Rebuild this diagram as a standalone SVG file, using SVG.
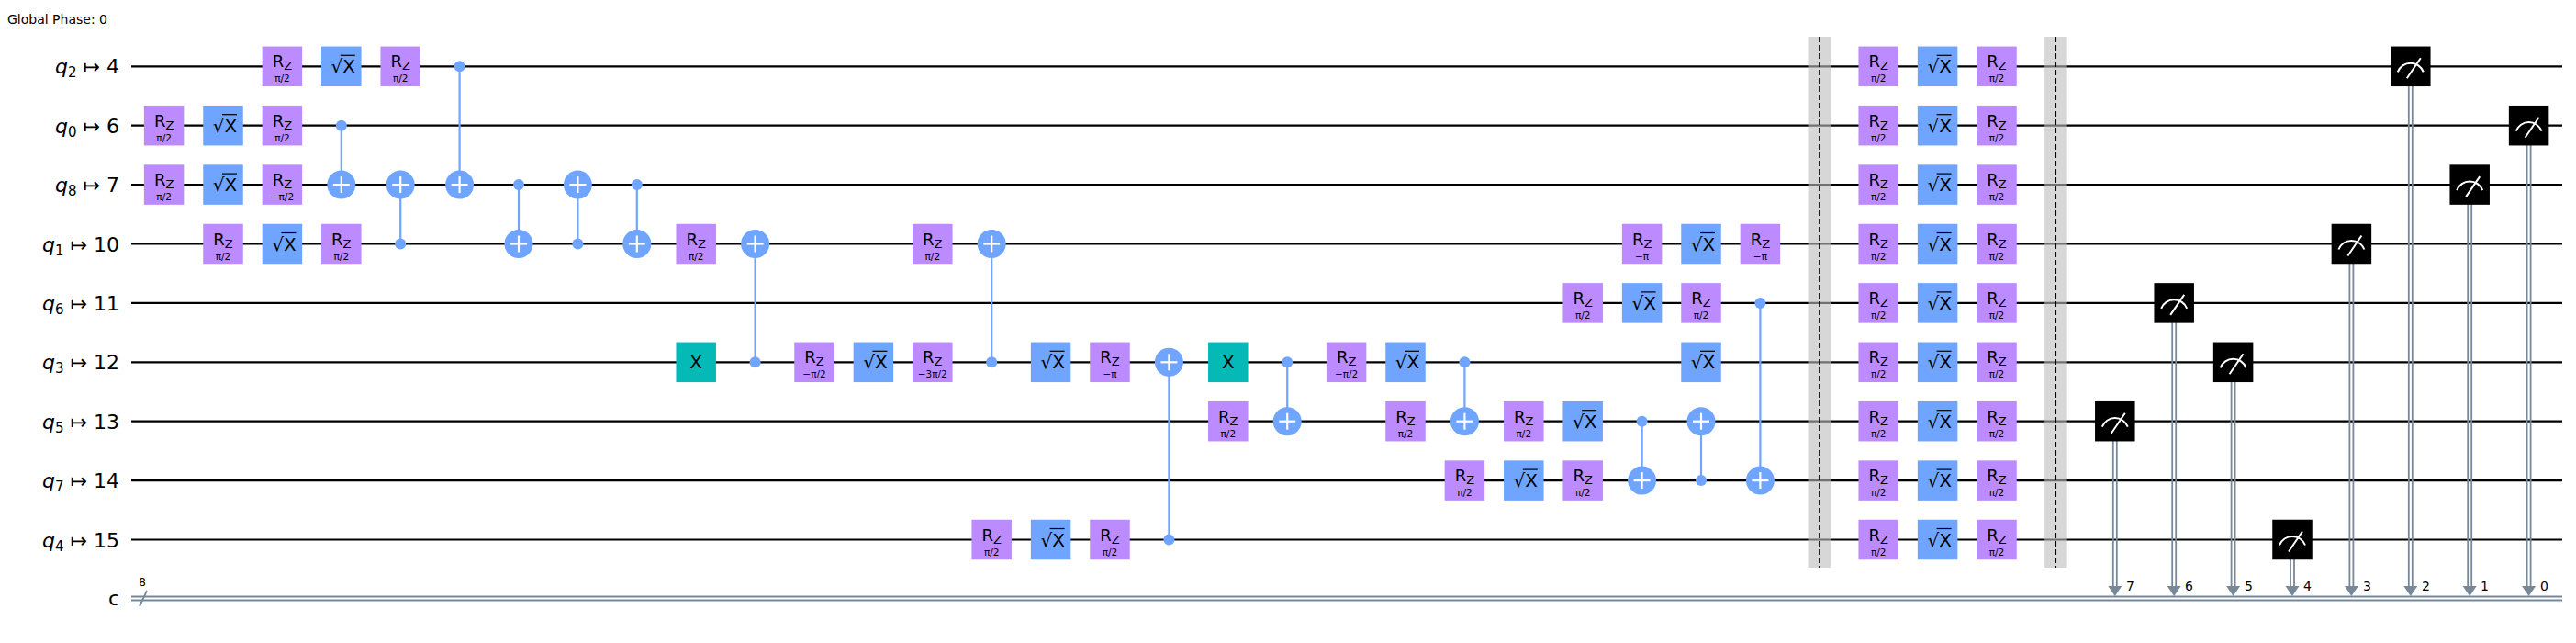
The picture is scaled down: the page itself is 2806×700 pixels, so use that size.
<svg xmlns="http://www.w3.org/2000/svg" width="2806" height="700" viewBox="0 0 2806 700">
<style>
text{font-family:"DejaVu Sans","Liberation Sans",sans-serif;fill:#000}
.w{stroke:#000;stroke-width:2.2}
.cw{stroke:#778899;stroke-width:1.8;fill:none}
.lbl{font-size:22px;text-anchor:end}
.rz{fill:#bb8bff}
.sx{fill:#6fa4ff}
.xg{fill:#05bab6}
.m{fill:#000}
.gt{font-size:18px;text-anchor:middle}
.pt{font-size:10.5px;text-anchor:middle}
.big{font-size:20px;text-anchor:middle}
.cl{stroke:#6fa4ff;stroke-width:2.2}
.tp{stroke:#fff;stroke-width:2.2}
.bar{fill:#bdbdbd;fill-opacity:0.6}
.bd{stroke:#000;stroke-width:1.3;stroke-dasharray:6,3}
.ms{stroke:#fff;stroke-width:2;fill:none}
.bit{font-size:14px}
</style>
<defs>
<g id="rzs"><rect class="rz" x="-21.75" y="-21.75" width="43.5" height="43.5"/></g>
<g id="sxs"><rect class="sx" x="-21.75" y="-21.75" width="43.5" height="43.5"/><line x1="-1" y1="-12" x2="15" y2="-12" stroke="#000" stroke-width="1.2"/></g>
<g id="tg"><circle r="15.5" fill="#6fa4ff"/><line class="tp" x1="-9" y1="0" x2="9" y2="0"/><line class="tp" x1="0" y1="-9" x2="0" y2="9"/></g>
<g id="msym"><rect class="m" x="-21.75" y="-21.75" width="43.5" height="43.5"/><path class="ms" d="M-14,6 A15,15 0 0 1 14,6"/><line class="ms" x1="-4" y1="13" x2="11" y2="-9"/></g>
<polygon id="arr" points="-7.5,-11 7.5,-11 0,0" fill="#778899"/>
</defs>
<text x="8" y="26" font-size="14">Global Phase: 0</text>
<g id="wires">
<line class="w" x1="143" y1="72.3" x2="2791" y2="72.3"/>
<line class="w" x1="143" y1="136.7" x2="2791" y2="136.7"/>
<line class="w" x1="143" y1="201.1" x2="2791" y2="201.1"/>
<line class="w" x1="143" y1="265.5" x2="2791" y2="265.5"/>
<line class="w" x1="143" y1="329.9" x2="2791" y2="329.9"/>
<line class="w" x1="143" y1="394.3" x2="2791" y2="394.3"/>
<line class="w" x1="143" y1="458.7" x2="2791" y2="458.7"/>
<line class="w" x1="143" y1="523.1" x2="2791" y2="523.1"/>
<line class="w" x1="143" y1="587.5" x2="2791" y2="587.5"/>
<line class="cw" x1="143" y1="649.5" x2="2791" y2="649.5"/>
<line class="cw" x1="143" y1="653.5" x2="2791" y2="653.5"/>
<line class="cw" x1="152" y1="660" x2="160" y2="643"/>
<text x="155" y="638" font-size="12" text-anchor="middle">8</text>
</g>
<g id="labels">
<text class="lbl" x="130" y="80"><tspan font-style="italic">q</tspan><tspan font-size="15" dy="4">2</tspan><tspan dy="-4"> ↦ 4</tspan></text>
<text class="lbl" x="130" y="144.5"><tspan font-style="italic">q</tspan><tspan font-size="15" dy="4">0</tspan><tspan dy="-4"> ↦ 6</tspan></text>
<text class="lbl" x="130" y="209"><tspan font-style="italic">q</tspan><tspan font-size="15" dy="4">8</tspan><tspan dy="-4"> ↦ 7</tspan></text>
<text class="lbl" x="130" y="273.5"><tspan font-style="italic">q</tspan><tspan font-size="15" dy="4">1</tspan><tspan dy="-4"> ↦ 10</tspan></text>
<text class="lbl" x="130" y="338"><tspan font-style="italic">q</tspan><tspan font-size="15" dy="4">6</tspan><tspan dy="-4"> ↦ 11</tspan></text>
<text class="lbl" x="130" y="402"><tspan font-style="italic">q</tspan><tspan font-size="15" dy="4">3</tspan><tspan dy="-4"> ↦ 12</tspan></text>
<text class="lbl" x="130" y="466.5"><tspan font-style="italic">q</tspan><tspan font-size="15" dy="4">5</tspan><tspan dy="-4"> ↦ 13</tspan></text>
<text class="lbl" x="130" y="531"><tspan font-style="italic">q</tspan><tspan font-size="15" dy="4">7</tspan><tspan dy="-4"> ↦ 14</tspan></text>
<text class="lbl" x="130" y="595.5"><tspan font-style="italic">q</tspan><tspan font-size="15" dy="4">4</tspan><tspan dy="-4"> ↦ 15</tspan></text>
<text class="lbl" x="130" y="659">c</text>
</g>
<g id="barriers">
<g id="barrier1"><rect class="bar" x="1969.55" y="40" width="24.5" height="578"/><line class="bd" x1="1981.8" y1="40" x2="1981.8" y2="618"/></g>
<g id="barrier2"><rect class="bar" x="2227.15" y="40" width="24.5" height="578"/><line class="bd" x1="2239.4" y1="40" x2="2239.4" y2="618"/></g>
</g>
<g id="connectors">
<line class="cl" x1="371.8" y1="136.7" x2="371.8" y2="201.1"/>
<line class="cl" x1="436.2" y1="201.1" x2="436.2" y2="265.5"/>
<line class="cl" x1="500.6" y1="72.3" x2="500.6" y2="201.1"/>
<line class="cl" x1="565" y1="201.1" x2="565" y2="265.5"/>
<line class="cl" x1="629.4" y1="201.1" x2="629.4" y2="265.5"/>
<line class="cl" x1="693.8" y1="201.1" x2="693.8" y2="265.5"/>
<line class="cl" x1="822.6" y1="265.5" x2="822.6" y2="394.3"/>
<line class="cl" x1="1080.2" y1="265.5" x2="1080.2" y2="394.3"/>
<line class="cl" x1="1273.4" y1="394.3" x2="1273.4" y2="587.5"/>
<line class="cl" x1="1402.2" y1="394.3" x2="1402.2" y2="458.7"/>
<line class="cl" x1="1595.4" y1="394.3" x2="1595.4" y2="458.7"/>
<line class="cl" x1="1788.6" y1="458.7" x2="1788.6" y2="523.1"/>
<line class="cl" x1="1853" y1="458.7" x2="1853" y2="523.1"/>
<line class="cl" x1="1917.4" y1="329.9" x2="1917.4" y2="523.1"/>
<g id="mlines">
<path class="cw" d="M2301.8,480 V639 M2305.8,480 V639"/><use href="#arr" x="2303.8" y="649"/><text class="bit" x="2316" y="643">7</text>
<path class="cw" d="M2366.2,351 V639 M2370.2,351 V639"/><use href="#arr" x="2368.2" y="649"/><text class="bit" x="2380" y="643">6</text>
<path class="cw" d="M2430.6,416 V639 M2434.6,416 V639"/><use href="#arr" x="2432.6" y="649"/><text class="bit" x="2445" y="643">5</text>
<path class="cw" d="M2495,609 V639 M2499,609 V639"/><use href="#arr" x="2497" y="649"/><text class="bit" x="2509" y="643">4</text>
<path class="cw" d="M2559.4,287 V639 M2563.4,287 V639"/><use href="#arr" x="2561.4" y="649"/><text class="bit" x="2574" y="643">3</text>
<path class="cw" d="M2623.8,94 V639 M2627.8,94 V639"/><use href="#arr" x="2625.8" y="649"/><text class="bit" x="2638" y="643">2</text>
<path class="cw" d="M2688.2,222 V639 M2692.2,222 V639"/><use href="#arr" x="2690.2" y="649"/><text class="bit" x="2702" y="643">1</text>
<path class="cw" d="M2752.6,158 V639 M2756.6,158 V639"/><use href="#arr" x="2754.6" y="649"/><text class="bit" x="2767" y="643">0</text>
</g>
</g>
<g id="gates">
<!-- Rz gates -->
<g id="rz_q2_2" transform="translate(307.4,72.3)"><use href="#rzs"/><text class="gt" y="1">R<tspan font-size="13" dy="3">Z</tspan></text><text class="pt" y="17">π/2</text></g>
<g id="rz_q2_4" transform="translate(436.2,72.3)"><use href="#rzs"/><text class="gt" y="1">R<tspan font-size="13" dy="3">Z</tspan></text><text class="pt" y="17">π/2</text></g>
<g id="rz_q0_0" transform="translate(178.6,136.7)"><use href="#rzs"/><text class="gt" y="1">R<tspan font-size="13" dy="3">Z</tspan></text><text class="pt" y="17">π/2</text></g>
<g id="rz_q0_2" transform="translate(307.4,136.7)"><use href="#rzs"/><text class="gt" y="1">R<tspan font-size="13" dy="3">Z</tspan></text><text class="pt" y="17">π/2</text></g>
<g id="rz_q8_0" transform="translate(178.6,201.1)"><use href="#rzs"/><text class="gt" y="1">R<tspan font-size="13" dy="3">Z</tspan></text><text class="pt" y="17">π/2</text></g>
<g id="rz_q8_2" transform="translate(307.4,201.1)"><use href="#rzs"/><text class="gt" y="1">R<tspan font-size="13" dy="3">Z</tspan></text><text class="pt" y="17">−π/2</text></g>
<g id="rz_q1_1" transform="translate(243,265.5)"><use href="#rzs"/><text class="gt" y="1">R<tspan font-size="13" dy="3">Z</tspan></text><text class="pt" y="17">π/2</text></g>
<g id="rz_q1_3" transform="translate(371.8,265.5)"><use href="#rzs"/><text class="gt" y="1">R<tspan font-size="13" dy="3">Z</tspan></text><text class="pt" y="17">π/2</text></g>
<g id="rz_q1_9" transform="translate(758.2,265.5)"><use href="#rzs"/><text class="gt" y="1">R<tspan font-size="13" dy="3">Z</tspan></text><text class="pt" y="17">π/2</text></g>
<g id="rz_q1_13" transform="translate(1015.8,265.5)"><use href="#rzs"/><text class="gt" y="1">R<tspan font-size="13" dy="3">Z</tspan></text><text class="pt" y="17">π/2</text></g>
<g id="rz_q1_25" transform="translate(1788.6,265.5)"><use href="#rzs"/><text class="gt" y="1">R<tspan font-size="13" dy="3">Z</tspan></text><text class="pt" y="17">−π</text></g>
<g id="rz_q1_27" transform="translate(1917.4,265.5)"><use href="#rzs"/><text class="gt" y="1">R<tspan font-size="13" dy="3">Z</tspan></text><text class="pt" y="17">−π</text></g>
<g id="rz_q6_24" transform="translate(1724.2,329.9)"><use href="#rzs"/><text class="gt" y="1">R<tspan font-size="13" dy="3">Z</tspan></text><text class="pt" y="17">π/2</text></g>
<g id="rz_q6_26" transform="translate(1853,329.9)"><use href="#rzs"/><text class="gt" y="1">R<tspan font-size="13" dy="3">Z</tspan></text><text class="pt" y="17">π/2</text></g>
<g id="rz_q3_11" transform="translate(887,394.3)"><use href="#rzs"/><text class="gt" y="1">R<tspan font-size="13" dy="3">Z</tspan></text><text class="pt" y="17">−π/2</text></g>
<g id="rz_q3_13" transform="translate(1015.8,394.3)"><use href="#rzs"/><text class="gt" y="1">R<tspan font-size="13" dy="3">Z</tspan></text><text class="pt" y="17">−3π/2</text></g>
<g id="rz_q3_16" transform="translate(1209,394.3)"><use href="#rzs"/><text class="gt" y="1">R<tspan font-size="13" dy="3">Z</tspan></text><text class="pt" y="17">−π</text></g>
<g id="rz_q3_20" transform="translate(1466.6,394.3)"><use href="#rzs"/><text class="gt" y="1">R<tspan font-size="13" dy="3">Z</tspan></text><text class="pt" y="17">−π/2</text></g>
<g id="rz_q5_18" transform="translate(1337.8,458.7)"><use href="#rzs"/><text class="gt" y="1">R<tspan font-size="13" dy="3">Z</tspan></text><text class="pt" y="17">π/2</text></g>
<g id="rz_q5_21" transform="translate(1531,458.7)"><use href="#rzs"/><text class="gt" y="1">R<tspan font-size="13" dy="3">Z</tspan></text><text class="pt" y="17">π/2</text></g>
<g id="rz_q5_23" transform="translate(1659.8,458.7)"><use href="#rzs"/><text class="gt" y="1">R<tspan font-size="13" dy="3">Z</tspan></text><text class="pt" y="17">π/2</text></g>
<g id="rz_q7_22" transform="translate(1595.4,523.1)"><use href="#rzs"/><text class="gt" y="1">R<tspan font-size="13" dy="3">Z</tspan></text><text class="pt" y="17">π/2</text></g>
<g id="rz_q7_24" transform="translate(1724.2,523.1)"><use href="#rzs"/><text class="gt" y="1">R<tspan font-size="13" dy="3">Z</tspan></text><text class="pt" y="17">π/2</text></g>
<g id="rz_q4_14" transform="translate(1080.2,587.5)"><use href="#rzs"/><text class="gt" y="1">R<tspan font-size="13" dy="3">Z</tspan></text><text class="pt" y="17">π/2</text></g>
<g id="rz_q4_16" transform="translate(1209,587.5)"><use href="#rzs"/><text class="gt" y="1">R<tspan font-size="13" dy="3">Z</tspan></text><text class="pt" y="17">π/2</text></g>
<!-- sqrt X gates -->
<g id="sx_q2_3" transform="translate(371.8,72.3)"><use href="#sxs"/><text class="big" x="2" y="7">√X</text></g>
<g id="sx_q0_1" transform="translate(243,136.7)"><use href="#sxs"/><text class="big" x="2" y="7">√X</text></g>
<g id="sx_q8_1" transform="translate(243,201.1)"><use href="#sxs"/><text class="big" x="2" y="7">√X</text></g>
<g id="sx_q1_2" transform="translate(307.4,265.5)"><use href="#sxs"/><text class="big" x="2" y="7">√X</text></g>
<g id="sx_q1_26" transform="translate(1853,265.5)"><use href="#sxs"/><text class="big" x="2" y="7">√X</text></g>
<g id="sx_q6_25" transform="translate(1788.6,329.9)"><use href="#sxs"/><text class="big" x="2" y="7">√X</text></g>
<g id="sx_q3_12" transform="translate(951.4,394.3)"><use href="#sxs"/><text class="big" x="2" y="7">√X</text></g>
<g id="sx_q3_15" transform="translate(1144.6,394.3)"><use href="#sxs"/><text class="big" x="2" y="7">√X</text></g>
<g id="sx_q3_21" transform="translate(1531,394.3)"><use href="#sxs"/><text class="big" x="2" y="7">√X</text></g>
<g id="sx_q3_26" transform="translate(1853,394.3)"><use href="#sxs"/><text class="big" x="2" y="7">√X</text></g>
<g id="sx_q5_24" transform="translate(1724.2,458.7)"><use href="#sxs"/><text class="big" x="2" y="7">√X</text></g>
<g id="sx_q7_23" transform="translate(1659.8,523.1)"><use href="#sxs"/><text class="big" x="2" y="7">√X</text></g>
<g id="sx_q4_15" transform="translate(1144.6,587.5)"><use href="#sxs"/><text class="big" x="2" y="7">√X</text></g>
<!-- X gates -->
<g id="x_q3_9" transform="translate(758.2,394.3)"><rect class="xg" x="-21.75" y="-21.75" width="43.5" height="43.5"/><text class="big" y="7">X</text></g>
<g id="x_q3_18" transform="translate(1337.8,394.3)"><rect class="xg" x="-21.75" y="-21.75" width="43.5" height="43.5"/><text class="big" y="7">X</text></g>
<!-- layer between barriers -->
<g id="rz_q2_29" transform="translate(2046.2,72.3)"><use href="#rzs"/><text class="gt" y="1">R<tspan font-size="13" dy="3">Z</tspan></text><text class="pt" y="17">π/2</text></g>
<g id="sx_q2_30" transform="translate(2110.6,72.3)"><use href="#sxs"/><text class="big" x="2" y="7">√X</text></g>
<g id="rz_q2_31" transform="translate(2175,72.3)"><use href="#rzs"/><text class="gt" y="1">R<tspan font-size="13" dy="3">Z</tspan></text><text class="pt" y="17">π/2</text></g>
<g id="rz_q0_29" transform="translate(2046.2,136.7)"><use href="#rzs"/><text class="gt" y="1">R<tspan font-size="13" dy="3">Z</tspan></text><text class="pt" y="17">π/2</text></g>
<g id="sx_q0_30" transform="translate(2110.6,136.7)"><use href="#sxs"/><text class="big" x="2" y="7">√X</text></g>
<g id="rz_q0_31" transform="translate(2175,136.7)"><use href="#rzs"/><text class="gt" y="1">R<tspan font-size="13" dy="3">Z</tspan></text><text class="pt" y="17">π/2</text></g>
<g id="rz_q8_29" transform="translate(2046.2,201.1)"><use href="#rzs"/><text class="gt" y="1">R<tspan font-size="13" dy="3">Z</tspan></text><text class="pt" y="17">π/2</text></g>
<g id="sx_q8_30" transform="translate(2110.6,201.1)"><use href="#sxs"/><text class="big" x="2" y="7">√X</text></g>
<g id="rz_q8_31" transform="translate(2175,201.1)"><use href="#rzs"/><text class="gt" y="1">R<tspan font-size="13" dy="3">Z</tspan></text><text class="pt" y="17">π/2</text></g>
<g id="rz_q1_29" transform="translate(2046.2,265.5)"><use href="#rzs"/><text class="gt" y="1">R<tspan font-size="13" dy="3">Z</tspan></text><text class="pt" y="17">π/2</text></g>
<g id="sx_q1_30" transform="translate(2110.6,265.5)"><use href="#sxs"/><text class="big" x="2" y="7">√X</text></g>
<g id="rz_q1_31" transform="translate(2175,265.5)"><use href="#rzs"/><text class="gt" y="1">R<tspan font-size="13" dy="3">Z</tspan></text><text class="pt" y="17">π/2</text></g>
<g id="rz_q6_29" transform="translate(2046.2,329.9)"><use href="#rzs"/><text class="gt" y="1">R<tspan font-size="13" dy="3">Z</tspan></text><text class="pt" y="17">π/2</text></g>
<g id="sx_q6_30" transform="translate(2110.6,329.9)"><use href="#sxs"/><text class="big" x="2" y="7">√X</text></g>
<g id="rz_q6_31" transform="translate(2175,329.9)"><use href="#rzs"/><text class="gt" y="1">R<tspan font-size="13" dy="3">Z</tspan></text><text class="pt" y="17">π/2</text></g>
<g id="rz_q3_29" transform="translate(2046.2,394.3)"><use href="#rzs"/><text class="gt" y="1">R<tspan font-size="13" dy="3">Z</tspan></text><text class="pt" y="17">π/2</text></g>
<g id="sx_q3_30" transform="translate(2110.6,394.3)"><use href="#sxs"/><text class="big" x="2" y="7">√X</text></g>
<g id="rz_q3_31" transform="translate(2175,394.3)"><use href="#rzs"/><text class="gt" y="1">R<tspan font-size="13" dy="3">Z</tspan></text><text class="pt" y="17">π/2</text></g>
<g id="rz_q5_29" transform="translate(2046.2,458.7)"><use href="#rzs"/><text class="gt" y="1">R<tspan font-size="13" dy="3">Z</tspan></text><text class="pt" y="17">π/2</text></g>
<g id="sx_q5_30" transform="translate(2110.6,458.7)"><use href="#sxs"/><text class="big" x="2" y="7">√X</text></g>
<g id="rz_q5_31" transform="translate(2175,458.7)"><use href="#rzs"/><text class="gt" y="1">R<tspan font-size="13" dy="3">Z</tspan></text><text class="pt" y="17">π/2</text></g>
<g id="rz_q7_29" transform="translate(2046.2,523.1)"><use href="#rzs"/><text class="gt" y="1">R<tspan font-size="13" dy="3">Z</tspan></text><text class="pt" y="17">π/2</text></g>
<g id="sx_q7_30" transform="translate(2110.6,523.1)"><use href="#sxs"/><text class="big" x="2" y="7">√X</text></g>
<g id="rz_q7_31" transform="translate(2175,523.1)"><use href="#rzs"/><text class="gt" y="1">R<tspan font-size="13" dy="3">Z</tspan></text><text class="pt" y="17">π/2</text></g>
<g id="rz_q4_29" transform="translate(2046.2,587.5)"><use href="#rzs"/><text class="gt" y="1">R<tspan font-size="13" dy="3">Z</tspan></text><text class="pt" y="17">π/2</text></g>
<g id="sx_q4_30" transform="translate(2110.6,587.5)"><use href="#sxs"/><text class="big" x="2" y="7">√X</text></g>
<g id="rz_q4_31" transform="translate(2175,587.5)"><use href="#rzs"/><text class="gt" y="1">R<tspan font-size="13" dy="3">Z</tspan></text><text class="pt" y="17">π/2</text></g>
<!-- CX gates -->
<g id="cx3"><circle cx="371.8" cy="136.7" r="6" fill="#6fa4ff"/><use href="#tg" x="371.8" y="201.1"/></g>
<g id="cx4"><circle cx="436.2" cy="265.5" r="6" fill="#6fa4ff"/><use href="#tg" x="436.2" y="201.1"/></g>
<g id="cx5"><circle cx="500.6" cy="72.3" r="6" fill="#6fa4ff"/><use href="#tg" x="500.6" y="201.1"/></g>
<g id="cx6"><circle cx="565" cy="201.1" r="6" fill="#6fa4ff"/><use href="#tg" x="565" y="265.5"/></g>
<g id="cx7"><circle cx="629.4" cy="265.5" r="6" fill="#6fa4ff"/><use href="#tg" x="629.4" y="201.1"/></g>
<g id="cx8"><circle cx="693.8" cy="201.1" r="6" fill="#6fa4ff"/><use href="#tg" x="693.8" y="265.5"/></g>
<g id="cx10"><circle cx="822.6" cy="394.3" r="6" fill="#6fa4ff"/><use href="#tg" x="822.6" y="265.5"/></g>
<g id="cx14"><circle cx="1080.2" cy="394.3" r="6" fill="#6fa4ff"/><use href="#tg" x="1080.2" y="265.5"/></g>
<g id="cx17"><circle cx="1273.4" cy="587.5" r="6" fill="#6fa4ff"/><use href="#tg" x="1273.4" y="394.3"/></g>
<g id="cx19"><circle cx="1402.2" cy="394.3" r="6" fill="#6fa4ff"/><use href="#tg" x="1402.2" y="458.7"/></g>
<g id="cx22"><circle cx="1595.4" cy="394.3" r="6" fill="#6fa4ff"/><use href="#tg" x="1595.4" y="458.7"/></g>
<g id="cx25"><circle cx="1788.6" cy="458.7" r="6" fill="#6fa4ff"/><use href="#tg" x="1788.6" y="523.1"/></g>
<g id="cx26"><circle cx="1853" cy="523.1" r="6" fill="#6fa4ff"/><use href="#tg" x="1853" y="458.7"/></g>
<g id="cx27"><circle cx="1917.4" cy="329.9" r="6" fill="#6fa4ff"/><use href="#tg" x="1917.4" y="523.1"/></g>
<!-- measures -->
<g id="m_q5"><use href="#msym" x="2303.8" y="458.7"/></g>
<g id="m_q6"><use href="#msym" x="2368.2" y="329.9"/></g>
<g id="m_q3"><use href="#msym" x="2432.6" y="394.3"/></g>
<g id="m_q4"><use href="#msym" x="2497" y="587.5"/></g>
<g id="m_q1"><use href="#msym" x="2561.4" y="265.5"/></g>
<g id="m_q2"><use href="#msym" x="2625.8" y="72.3"/></g>
<g id="m_q8"><use href="#msym" x="2690.2" y="201.1"/></g>
<g id="m_q0"><use href="#msym" x="2754.6" y="136.7"/></g>
</g>
</svg>
